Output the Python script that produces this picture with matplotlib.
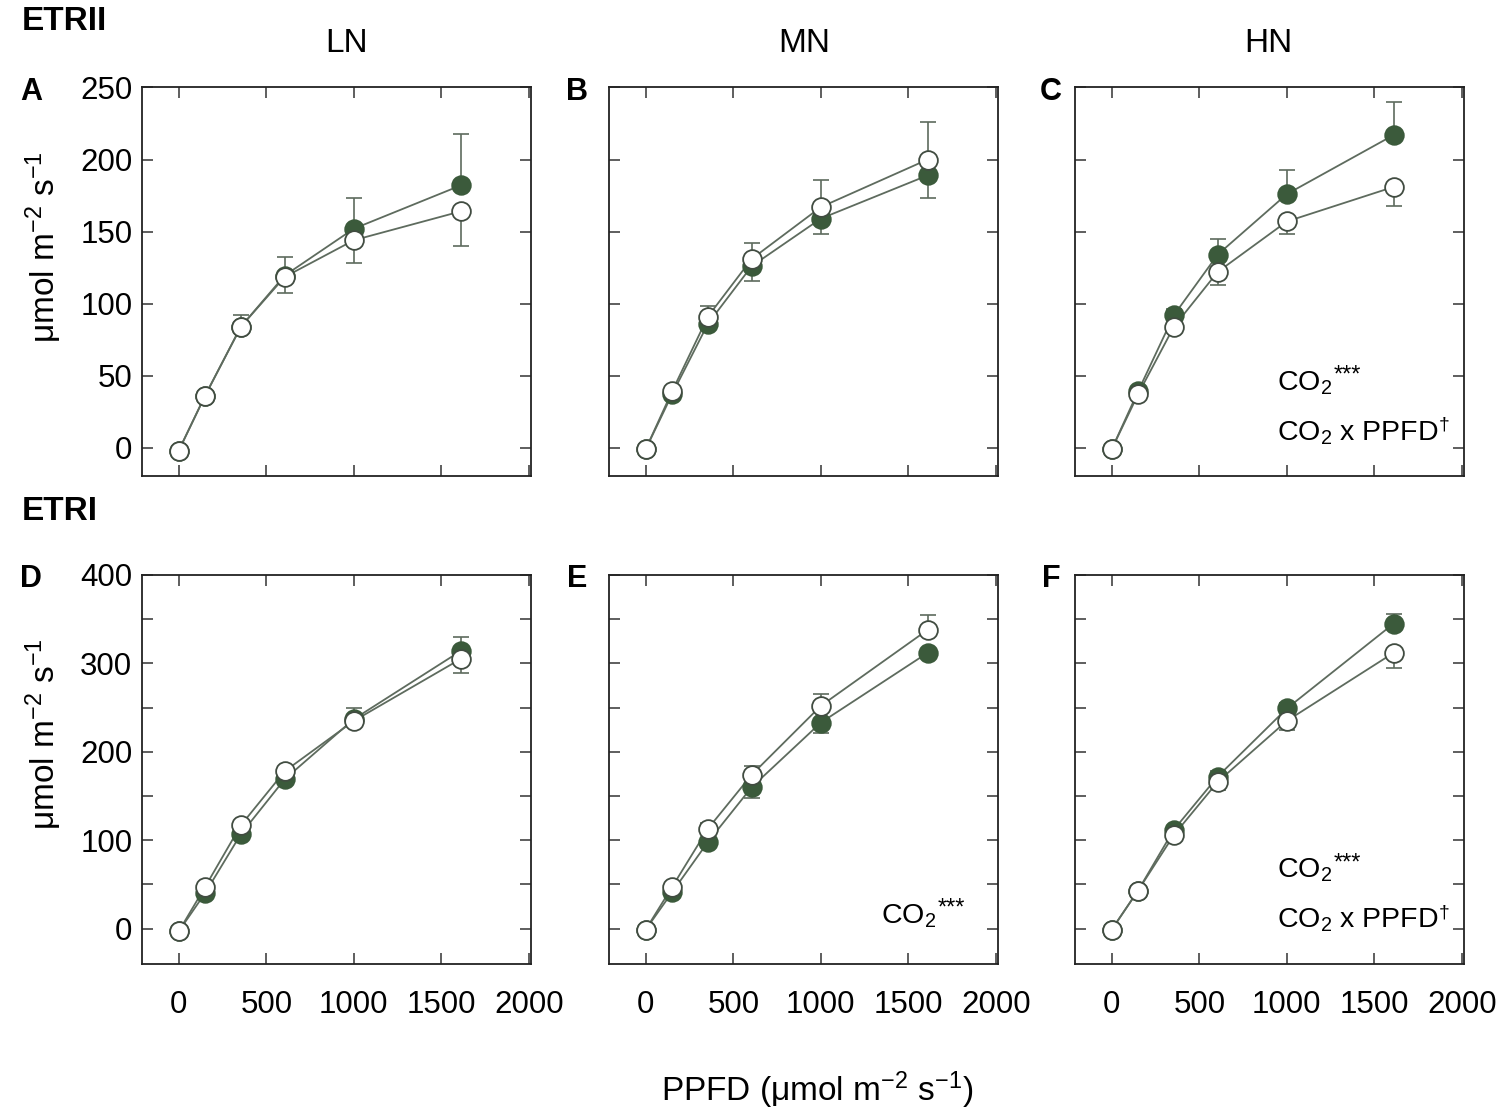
import matplotlib
matplotlib.use("Agg")
import matplotlib.pyplot as plt
from matplotlib.ticker import FixedLocator, FuncFormatter

plt.rcParams["font.family"] = ["Liberation Sans", "DejaVu Sans"]
plt.rcParams["mathtext.fontset"] = "custom"
plt.rcParams["mathtext.rm"] = "Liberation Sans"
plt.rcParams["mathtext.it"] = "Liberation Sans:italic"
plt.rcParams["mathtext.bf"] = "Liberation Sans:bold"

# PPFD steps of the light response curve
ppfd = [0, 150, 355, 605, 1000, 1610]

# ETRII, filled = elevated CO2, open = ambient CO2 (mean, SE)
etr2_ln_filled = [-2, 36, 84, 119.5, 152, 182]
etr2_ln_filled_se = [0, 2, 8, 13, 21, 36]
etr2_ln_open = [-2, 36, 84, 118.5, 144, 164]
etr2_ln_open_se = [0, 2, 4, 11, 16, 24]

etr2_mn_filled = [-1, 37, 86, 126, 159, 189]
etr2_mn_filled_se = [0, 2, 4, 10, 11, 16]
etr2_mn_open = [-1, 39, 91, 131, 167, 200]
etr2_mn_open_se = [0, 2, 7, 11, 19, 26]

etr2_hn_filled = [-1, 39, 92, 134, 176, 217]
etr2_hn_filled_se = [0, 2, 4, 11, 17, 23]
etr2_hn_open = [-1, 37, 84, 122, 157, 181]
etr2_hn_open_se = [0, 2, 4, 9, 9, 13]

# ETRI
etr1_ln_filled = [-3, 40, 107, 169, 237, 314]
etr1_ln_filled_se = [0, 3, 5, 5, 12, 16]
etr1_ln_open = [-3, 47, 117, 178, 235, 305]
etr1_ln_open_se = [0, 3, 5, 5, 5, 16]

etr1_mn_filled = [-1, 41, 98, 160, 233, 312]
etr1_mn_filled_se = [0, 3, 4, 12, 12, 5]
etr1_mn_open = [-1, 47, 113, 174, 252, 338]
etr1_mn_open_se = [0, 3, 6, 10, 13, 17]

etr1_hn_filled = [-1, 43, 112, 172, 249, 345]
etr1_hn_filled_se = [0, 3, 4, 6, 6, 11]
etr1_hn_open = [-1, 43, 106, 166, 235, 312]
etr1_hn_open_se = [0, 3, 4, 9, 10, 17]

col_titles = ["LN", "MN", "HN"]
panel_letters = ["A", "B", "C", "D", "E", "F"]
# (main text, superscript mark)
co2_txt = ("CO$_2$", "***")
inter_txt = ("CO$_2$ x PPFD", "\u2020")
stats_text = {
    2: [co2_txt, inter_txt],
    4: [co2_txt],
    5: [co2_txt, inter_txt],
}

panels = [
    (etr2_ln_filled, etr2_ln_filled_se, etr2_ln_open, etr2_ln_open_se),
    (etr2_mn_filled, etr2_mn_filled_se, etr2_mn_open, etr2_mn_open_se),
    (etr2_hn_filled, etr2_hn_filled_se, etr2_hn_open, etr2_hn_open_se),
    (etr1_ln_filled, etr1_ln_filled_se, etr1_ln_open, etr1_ln_open_se),
    (etr1_mn_filled, etr1_mn_filled_se, etr1_mn_open, etr1_mn_open_se),
    (etr1_hn_filled, etr1_hn_filled_se, etr1_hn_open, etr1_hn_open_se),
]

LINE_C = "#5e6b5e"
FILL_C = "#3b5a3b"
EDGE_C = "#414c41"

W, H = 1500, 1115
fig = plt.figure(figsize=(W / 100, H / 100), dpi=100)

col_left = [142, 609, 1075]
row_top = [87.5, 575]
ax_w, ax_h = 389, 389
letter_x = [31, 577, 1051]


def one_sided(vals, se, other, up_on_tie):
    lo, hi = [], []
    for v, e, o in zip(vals, se, other):
        up = v > o or (v == o and up_on_tie)
        lo.append(0 if up else e)
        hi.append(e if up else 0)
    return [lo, hi]


for i, (yf, ef, yo, eo) in enumerate(panels):
    r, c = divmod(i, 3)
    rect = [col_left[c] / W, 1 - (row_top[r] + ax_h) / H, ax_w / W, ax_h / H]
    ax = fig.add_axes(rect)

    ax.errorbar(ppfd, yf, yerr=one_sided(yf, ef, yo, True), fmt="none",
                ecolor=LINE_C, elinewidth=1.2, capsize=5.5, capthick=1.2, zorder=2)
    ax.errorbar(ppfd, yo, yerr=one_sided(yo, eo, yf, False), fmt="none",
                ecolor=LINE_C, elinewidth=1.2, capsize=5.5, capthick=1.2, zorder=2)
    ax.plot(ppfd, yf, "-", color=LINE_C, lw=1.3, zorder=3)
    ax.plot(ppfd, yo, "-", color=LINE_C, lw=1.3, zorder=3)
    ax.plot(ppfd, yf, "o", ms=13.5, mfc=FILL_C, mec=FILL_C, mew=1.2, zorder=4)
    ax.plot(ppfd, yo, "o", ms=13.5, mfc="white", mec=EDGE_C, mew=1.3, zorder=5)

    ax.set_xlim(-210, 2012)
    ax.xaxis.set_major_locator(FixedLocator([0, 500, 1000, 1500, 2000]))
    if r == 0:
        ax.set_ylim(-20, 250)
        ax.yaxis.set_major_locator(FixedLocator([0, 50, 100, 150, 200, 250]))
    else:
        ax.set_ylim(-40, 400)
        ax.yaxis.set_major_locator(FixedLocator(list(range(0, 401, 50))))
        ax.yaxis.set_major_formatter(
            FuncFormatter(lambda v, p: f"{int(v)}" if v % 100 == 0 else ""))

    ax.tick_params(direction="in", length=8, width=1.1, top=True, right=True,
                   labelsize=22.5, colors="#333333", labelcolor="black")
    ax.tick_params(axis="x", pad=19)
    ax.tick_params(axis="y", pad=7)
    if r == 0:
        ax.tick_params(labelbottom=False)
    if c != 0:
        ax.tick_params(labelleft=False)
    for s in ax.spines.values():
        s.set_linewidth(1.3)
        s.set_color("#222222")

    for k, (main, mark) in enumerate(stats_text.get(i, [])):
        if i == 4:
            xpos, ypos = 0.70, 0.105
        else:
            xpos, ypos = 0.52, [0.222, 0.093][k]
        t = ax.text(xpos, ypos, main, transform=ax.transAxes, fontsize=20.5,
                    ha="left", va="baseline")
        if mark == "***":
            ax.annotate(mark, xy=(1.0, 1.0), xycoords=t, xytext=(1, 3),
                        textcoords="offset points", fontsize=17,
                        ha="left", va="top")
        else:
            ax.annotate(mark, xy=(1.0, 1.0), xycoords=t, xytext=(-0.5, 2),
                        textcoords="offset points", fontsize=14,
                        ha="left", va="top")

    fig.text(letter_x[c] / W, 1 - (row_top[r] + 4) / H, panel_letters[i],
             fontsize=22, fontweight="bold", ha="center", va="center")

# column titles
for t, xc in zip(col_titles, [347, 804, 1268]):
    fig.text(xc / W, 1 - 44 / H, t, fontsize=24, ha="center", va="center")

fig.text(22 / W, 1 - 22 / H, "ETRII", fontsize=24, fontweight="bold",
         ha="left", va="center")
fig.text(22 / W, 1 - 512 / H, "ETRI", fontsize=24, fontweight="bold",
         ha="left", va="center")

ylab = r"μmol m$^{-2}$ s$^{-1}$"
fig.text(44 / W, 1 - 247 / H, ylab, fontsize=24, rotation=90,
         ha="center", va="center")
fig.text(44 / W, 1 - 734 / H, ylab, fontsize=24, rotation=90,
         ha="center", va="center")
fig.text(817 / W, 1 - 1090 / H, r"PPFD (μmol m$^{-2}$ s$^{-1}$)", fontsize=24,
         ha="center", va="center")

fig.savefig("out.png", dpi=100)
